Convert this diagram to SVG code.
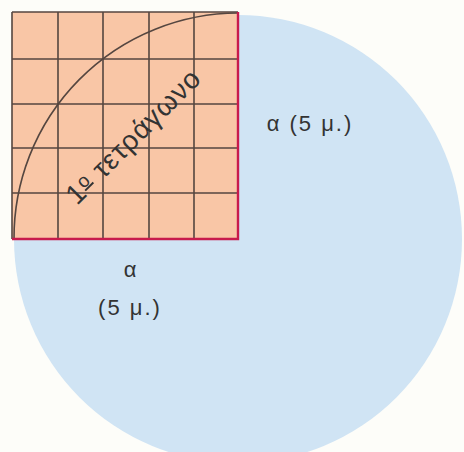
<svg xmlns="http://www.w3.org/2000/svg" width="464" height="452" viewBox="0 0 464 452">
<style>
.grid{stroke:#554640;stroke-width:1.6;fill:none}
.red{stroke:#c81a4c;stroke-width:2.4;fill:none}
.lbl{font-family:"Liberation Sans",Arial,sans-serif;font-size:22px;fill:#333333;letter-spacing:2px}
</style>
<rect width="464" height="452" fill="#fdfdf9"/>
<g id="circle">
<circle cx="238" cy="239" r="224" fill="#d0e4f4"/>
</g>
<g id="square">
<rect x="12" y="12" width="226" height="227" fill="#f9c6a6"/>
<path class="grid" d="M58 12V239M103 12V239M149 12V239M194 12V239M12 59H238M12 104H238M12 148H238M12 193H238M12 12H238M12 12V239"/>
<path class="grid" d="M14 239A225 225 0 0 1 238 13"/>
<path class="red" d="M238 12V239H12"/>
<text class="lbl" transform="translate(140 143) rotate(-45)" text-anchor="middle" style="font-size:28px;letter-spacing:1px">1<tspan font-size="19" dy="-7" text-decoration="underline">ο</tspan><tspan dy="7"> τετράγωνο</tspan></text>
</g>
<g id="labels">
<text class="lbl" x="310" y="131" text-anchor="middle">α (5 μ.)</text>
<text class="lbl" x="131" y="277" text-anchor="middle">α</text>
<text class="lbl" x="130" y="315" text-anchor="middle">(5 μ.)</text>
</g>
</svg>
